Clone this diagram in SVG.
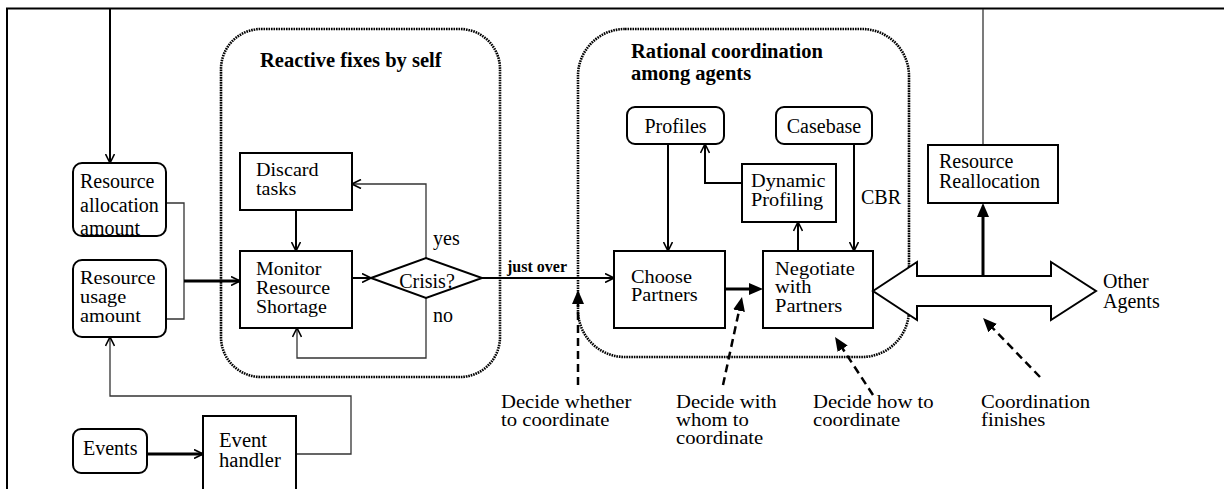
<svg xmlns="http://www.w3.org/2000/svg" width="1224" height="489" viewBox="0 0 1224 489" font-family="'Liberation Serif', 'Times New Roman', 'DejaVu Serif', serif">
  <defs>
    <style>
      text { font-size: 20px; fill: #000; }
      .title { font-weight: bold; font-size: 20.5px; }
      .small { font-weight: bold; font-size: 16px; }
      .f19 { font-size: 19px; }
      .f18 { font-size: 18px; }
      .box { fill: #fff; stroke: #000; stroke-width: 2; }
      .region { fill: none; stroke: #000; stroke-width: 2.6; stroke-dasharray: 1.6 0.9; }
      .frame { fill: none; stroke: #000; stroke-width: 2; }
      .thin { fill: none; stroke: #333; stroke-width: 1.3; }
      .mid { fill: none; stroke: #000; stroke-width: 2; }
      .thick { fill: none; stroke: #000; stroke-width: 3; }
      .dash { fill: none; stroke: #000; stroke-width: 2.5; stroke-dasharray: 8 5; }
      .open { marker-end: url(#open); }
      .solid { marker-end: url(#solid); }
    </style>
    <marker id="open" viewBox="0 0 10 10" markerWidth="10" markerHeight="10" refX="9.5" refY="5" orient="auto" markerUnits="userSpaceOnUse">
      <path d="M0.5,0.5 L9.5,5 L0.5,9.5" fill="none" stroke="#000" stroke-width="1.6"/>
    </marker>
    <marker id="solid" viewBox="0 0 14 12" markerWidth="14" markerHeight="12" refX="6" refY="6" orient="auto" markerUnits="userSpaceOnUse">
      <path d="M0,0 L14,6 L0,12 z" fill="#000"/>
    </marker>
  </defs>

  <rect width="1224" height="489" fill="#fff"/>

  <!-- outer frame (open at right and bottom) -->
  <path class="frame" d="M7,489 V8.5 H1224"/>

  <!-- grouping regions -->
  <g id="region-reactive">
    <rect class="region" x="221" y="29" width="279" height="348" rx="40" ry="40"/>
    <text class="title" x="260" y="67">Reactive fixes by self</text>
  </g>
  <g id="region-rational">
    <rect class="region" x="578" y="29" width="331" height="328" rx="47" ry="47"/>
    <text class="title" x="631" y="58">Rational coordination</text>
    <text class="title" x="631" y="80">among agents</text>
  </g>

  <!-- connectors -->
  <g id="connectors">
    <path class="mid open" d="M110,9 V163"/>
    <path class="thin" d="M166,203 H184 V281"/>
    <path class="thin" d="M166,319 H184 V281"/>
    <path class="thick open" d="M184,281 H240"/>
    <path class="thin open" d="M296,454 H351 V396 H110 V337"/>
    <path class="thick open" d="M147,454 H203"/>
    <path class="mid open" d="M296,210 V251"/>
    <path class="mid open" d="M352,278 H371"/>
    <path class="thin open" d="M426,258 V184 H352"/>
    <path class="thin open" d="M426,298 V358 H297 V328"/>
    <path class="mid open" d="M482,278 H614"/>
    <path class="mid open" d="M668,144 V251"/>
    <path class="mid open" d="M854,144 V251"/>
    <path class="mid open" d="M742,183 H705 V144"/>
    <path class="mid open" d="M798,251 V222"/>
    <path class="thick solid" d="M725,289 H755"/>
    <path class="thin" d="M983,145 V9"/>
    <text class="small" x="507" y="272">just over</text>
    <text x="433" y="245">yes</text>
    <text x="433" y="322">no</text>
    <text x="861" y="204">CBR</text>
  </g>

  <!-- nodes -->
  <g id="resource-allocation">
    <rect class="box" x="73" y="163" width="93" height="73" rx="9"/>
    <text x="80" y="188">Resource</text>
    <text x="80" y="212">allocation</text>
    <text x="80" y="235">amount</text>
  </g>
  <g id="resource-usage">
    <rect class="box" x="73" y="260" width="93" height="77" rx="9"/>
    <text class="f19" transform="translate(80,284) scale(1.07,1)"><tspan x="0" y="0">Resource</tspan><tspan x="0" y="19">usage</tspan><tspan x="0" y="38">amount</tspan></text>
  </g>
  <g id="events">
    <rect class="box" x="73" y="429" width="74" height="44" rx="8"/>
    <text x="83" y="455">Events</text>
  </g>
  <g id="event-handler">
    <rect class="box" x="203" y="416" width="93" height="80"/>
    <text transform="translate(219,447) scale(1.03,1)"><tspan x="0" y="0">Event</tspan><tspan x="0" y="20">handler</tspan></text>
  </g>
  <g id="discard-tasks">
    <rect class="box" x="240" y="153" width="112" height="57"/>
    <text class="f19" transform="translate(256,176) scale(1.06,1)"><tspan x="0" y="0">Discard</tspan><tspan x="0" y="19">tasks</tspan></text>
  </g>
  <g id="monitor">
    <rect class="box" x="240" y="251" width="112" height="77"/>
    <text class="f19" transform="translate(256,275) scale(1.05,1)"><tspan x="0" y="0">Monitor</tspan><tspan x="0" y="19">Resource</tspan><tspan x="0" y="38">Shortage</tspan></text>
  </g>
  <g id="crisis">
    <polygon class="box" points="371,278 426,258 482,278 426,298"/>
    <text x="427" y="288" text-anchor="middle">Crisis?</text>
  </g>
  <g id="profiles">
    <rect class="box" x="627" y="107" width="97" height="37" rx="8"/>
    <text x="675.5" y="133" text-anchor="middle">Profiles</text>
  </g>
  <g id="casebase">
    <rect class="box" x="776" y="107" width="96" height="37" rx="8"/>
    <text x="824" y="133" text-anchor="middle">Casebase</text>
  </g>
  <g id="dynamic-profiling">
    <rect class="box" x="742" y="164" width="94" height="58"/>
    <text class="f19" transform="translate(751,187) scale(1.07,1)"><tspan x="0" y="0">Dynamic</tspan><tspan x="0" y="19">Profiling</tspan></text>
  </g>
  <g id="choose-partners">
    <rect class="box" x="614" y="251" width="111" height="77"/>
    <text class="f18" transform="translate(631,283) scale(1.13,1)"><tspan x="0" y="0">Choose</tspan><tspan x="0" y="18">Partners</tspan></text>
  </g>
  <g id="negotiate">
    <rect class="box" x="763" y="251" width="110" height="77"/>
    <text class="f18" transform="translate(775,275) scale(1.14,1)"><tspan x="0" y="0">Negotiate</tspan><tspan x="0" y="18.5">with</tspan><tspan x="0" y="37">Partners</tspan></text>
  </g>
  <g id="resource-reallocation">
    <rect class="box" x="928" y="145" width="130" height="58"/>
    <text x="939" y="168">Resource</text>
    <text x="939" y="188">Reallocation</text>
  </g>
  <g id="exchange">
    <polygon class="box" points="873,291 917,262 917,276 1051,276 1051,262 1096,291 1051,320 1051,306 917,306 917,320"/>
  </g>
  <g id="to-reallocation">
    <path class="thick solid" d="M983,276 V211"/>
  </g>
  <g id="other-agents">
    <text x="1103" y="288">Other</text>
    <text x="1103" y="308">Agents</text>
  </g>

  <!-- decision-point annotations -->
  <g id="note-whether">
    <path class="dash solid" d="M578,385 V298"/>
    <text class="f18" transform="translate(501,408) scale(1.15,1)"><tspan x="0" y="0">Decide whether</tspan><tspan x="0" y="18">to coordinate</tspan></text>
  </g>
  <g id="note-whom">
    <path class="dash solid" d="M723,385 L740.3,304.8"/>
    <text class="f18" transform="translate(676,408) scale(1.15,1)"><tspan x="0" y="0">Decide with</tspan><tspan x="0" y="18">whom to</tspan><tspan x="0" y="36">coordinate</tspan></text>
  </g>
  <g id="note-how">
    <path class="dash solid" d="M873,395 L839.4,343.7"/>
    <text class="f18" transform="translate(813,408) scale(1.15,1)"><tspan x="0" y="0">Decide how to</tspan><tspan x="0" y="18">coordinate</tspan></text>
  </g>
  <g id="note-finish">
    <path class="dash solid" d="M1040,377 L988.6,323.8"/>
    <text class="f18" transform="translate(981,408) scale(1.15,1)"><tspan x="0" y="0">Coordination</tspan><tspan x="0" y="18">finishes</tspan></text>
  </g>
</svg>
